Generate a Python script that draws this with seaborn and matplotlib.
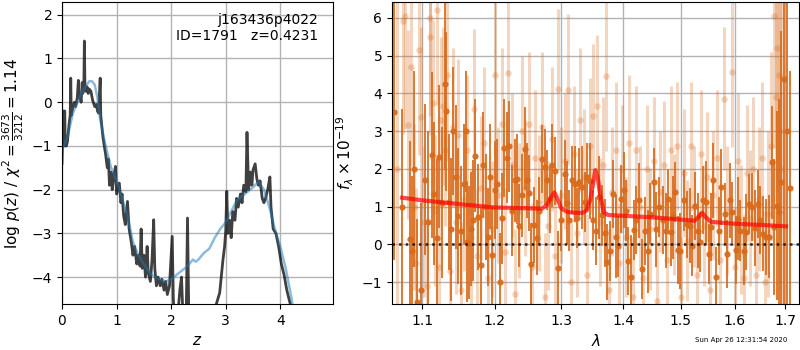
import matplotlib
matplotlib.use("Agg")
import matplotlib.pyplot as plt
from matplotlib.ticker import FixedLocator, FixedFormatter, NullLocator
import pandas as pd
import seaborn as sns

# ---- p(z) panel ----
pz_z = [0.00, 0.01, 0.02, 0.03, 0.05, 0.06, 0.08, 0.10, 0.13, 0.15, 0.16, 0.17, 0.20, 0.23,
        0.25, 0.28, 0.30, 0.31, 0.33, 0.35, 0.37, 0.38, 0.40, 0.41, 0.42, 0.44, 0.46, 0.48,
        0.50, 0.53, 0.56, 0.60, 0.63, 0.65, 0.67, 0.70, 0.71, 0.75, 0.80, 0.83, 0.85, 0.87,
        0.90, 0.92, 0.95, 0.98, 1.00, 1.02, 1.05, 1.08, 1.10, 1.13, 1.16, 1.20, 1.23, 1.27,
        1.30, 1.33, 1.37, 1.40, 1.43, 1.45, 1.47, 1.50, 1.53, 1.56, 1.58, 1.62, 1.65, 1.68,
        1.70, 1.73, 1.76, 1.80, 1.83, 1.87, 1.90, 1.93, 1.97, 2.02, 2.04, 2.07, 2.12, 2.16,
        2.19, 2.22, 2.27, 2.30, 2.33, 2.45, 2.60, 2.75, 2.83, 2.89, 2.95, 2.98, 3.00, 3.02,
        3.04, 3.07, 3.10, 3.13, 3.17, 3.20, 3.23, 3.27, 3.30, 3.33, 3.37, 3.39, 3.42, 3.45,
        3.48, 3.50, 3.54, 3.57, 3.60, 3.63, 3.67, 3.70, 3.73, 3.77, 3.81, 3.83, 3.87, 3.92,
        3.97, 4.02, 4.07, 4.12, 4.17, 4.22, 4.26]
pz_log = [-1.4, -0.9, -0.2, -1.0, -0.2, -1.0, -1.0, -0.9, -0.5, -0.3, 0.55, -0.3, -0.1, 0.0,
          -0.1, 0.1, 0.5, 0.1, 0.15, 0.0, 0.45, 0.2, 0.3, 1.4, 0.4, 0.25, 0.35, 0.2,
          0.3, 0.25, 0.05, -0.1, -0.05, -0.2, -0.25, 0.55, -0.3, -0.8, -1.2, -1.5, -1.3, -1.9,
          -1.6, -2.0, -1.7, -1.47, -2.1, -2.0, -1.85, -2.3, -2.1, -2.6, -2.8, -2.27, -2.9, -3.2,
          -3.5, -3.3, -3.7, -3.5, -3.75, -2.9, -3.8, -3.5, -4.0, -3.3, -3.9, -4.1, -3.6, -2.69,
          -3.8, -4.2, -4.0, -4.2, -4.05, -4.3, -4.1, -4.4, -4.2, -3.07, -4.5, -5.2, -4.9, -4.3,
          -4.0, -5.0, -5.5, -2.65, -5.5, -6.0, -6.5, -5.5, -4.61, -4.36, -3.6, -3.3, -2.95, -2.04,
          -3.0, -2.7, -3.1, -2.5, -2.7, -2.2, -2.4, -2.1, -2.3, -1.9, -2.05, -0.69, -2.0, -1.6,
          -1.9, -1.55, -1.41, -1.75, -1.9, -1.8, -2.2, -2.3, -2.2, -2.0, -1.71, -2.4, -2.9, -3.0,
          -3.3, -3.7, -3.95, -4.3, -4.55, -4.8, -5.2]

fit_z = [0.0, 0.1, 0.2, 0.3, 0.4, 0.5, 0.55, 0.6, 0.65, 0.7, 0.8, 0.9, 1.0, 1.1, 1.2, 1.3,
         1.4, 1.5, 1.6, 1.7, 1.8, 1.9, 2.0, 2.1, 2.2, 2.3, 2.4, 2.45, 2.5, 2.6, 2.7, 2.8,
         2.9, 3.0, 3.1, 3.2, 3.3, 3.4, 3.5, 3.6, 3.7, 3.8, 3.9, 4.0, 4.1, 4.2, 4.25]
fit_log = [-1.1, -0.8, -0.25, 0.05, 0.3, 0.48, 0.48, 0.4, 0.1, -0.4, -1.0, -1.5, -1.8, -2.2,
           -2.6, -3.2, -3.5, -3.7, -3.9, -4.0, -4.05, -4.1, -4.05, -3.95, -3.85, -3.75, -3.6,
           -3.65, -3.6, -3.45, -3.35, -3.1, -2.9, -2.75, -2.5, -2.25, -2.15, -2.05, -1.95,
           -1.82, -2.0, -2.4, -2.9, -3.3, -3.8, -4.45, -4.8]

# ---- spectrum panel: strong points (lam, flux, err) ----
dark_lam = [1.064, 1.074, 1.084, 1.087, 1.090, 1.093, 1.098, 1.104, 1.108, 1.113, 1.116, 1.120,
            1.123, 1.127, 1.130, 1.132, 1.136, 1.139, 1.142, 1.145, 1.149, 1.152, 1.156, 1.159,
            1.161, 1.163, 1.166, 1.169, 1.172, 1.176, 1.180, 1.183, 1.187, 1.190, 1.194, 1.196,
            1.200, 1.204, 1.208, 1.211, 1.214, 1.218, 1.221, 1.225, 1.229, 1.232, 1.236, 1.240,
            1.244, 1.248, 1.251, 1.254, 1.258, 1.262, 1.266, 1.270, 1.274, 1.278, 1.282, 1.286,
            1.290, 1.295, 1.300, 1.305, 1.308, 1.312, 1.317, 1.321, 1.325, 1.328, 1.332, 1.337,
            1.341, 1.346, 1.350, 1.355, 1.360, 1.365, 1.369, 1.373, 1.378, 1.383, 1.388, 1.392,
            1.396, 1.401, 1.404, 1.408, 1.413, 1.418, 1.422, 1.427, 1.432, 1.437, 1.442, 1.446,
            1.452, 1.456, 1.461, 1.469, 1.473, 1.477, 1.482, 1.486, 1.490, 1.495, 1.499, 1.505,
            1.511, 1.516, 1.521, 1.526, 1.531, 1.535, 1.540, 1.546, 1.551, 1.556, 1.560, 1.565,
            1.570, 1.575, 1.581, 1.586, 1.591, 1.595, 1.602, 1.606, 1.611, 1.618, 1.623, 1.628,
            1.634, 1.639, 1.645, 1.650, 1.655, 1.661, 1.667, 1.673, 1.678, 1.683, 1.687, 1.691,
            1.698, 1.704, 1.711]
dark_flux = [3.5, 1.0, 0.15, -0.18, 2.0, -1.53, -1.2, 1.72, 0.6, 2.36, 1.35, 0.16,
             2.33, 1.1, 4.26, 3.53, 1.13, 0.4, 3.0, 1.79, 0.76, 0.37, 1.6, 3.0,
             0.07, 0.05, 0.41, 0.64, 2.35, 0.72, -0.54, 2.1, 1.0, 0.2, 1.8, -0.28,
             1.45, 1.6, -1.0, 0.69, 2.55, 2.3, 2.6, 0.9, 1.7, 1.73, 0.5, 1.3,
             2.54, 1.7, 1.36, -0.52, 0.51, 0.18, 0.9, 2.27, 2.05, 1.71, 1.2, 2.1,
             1.95, -0.63, 0.64, 1.88, 1.1, 0.64, 1.7, 1.6, 0.7, 1.65, 1.52, 1.12,
             1.79, 1.68, 0.65, 0.35, 1.25, 0.77, 0.3, -0.47, -0.18, 1.34, 0.2, -0.05,
             1.2, 1.44, 0.9, -0.43, -0.85, 0.39, 0.64, 1.17, -0.65, 0.37, -0.18, 0.82,
             1.66, 0.4, 1.0, 0.64, 0.37, 1.2, 0.33, 0.72, 1.39, -0.15, -0.17, 1.17,
             0.53, 0.5, -0.03, 1.03, 0.37, 0.06, 1.17, 1.12, -0.25, 0.46, 1.7, -0.87,
             0.37, 1.52, 0.82, -0.25, 1.17, 0.85, -0.15, 0.68, 0.37, -0.18, 0.33, 1.08,
             0.99, 0.44, 1.08, 0.64, 0.29, 0.2, 0.2, 2.18, 0.46, 1.03, 0.86, 1.65,
             4.39, 3.0, 1.5]
dark_err = [3.9, 2.6, 2.6, 2.0, 2.6, 2.2, 2.3, 2.0, 2.4, 2.2, 1.9, 2.1,
            1.9, 2.0, 2.3, 2.1, 1.8, 1.9, 1.7, 1.9, 1.8, 1.7, 1.6, 1.6,
            1.6, 1.5, 1.5, 1.6, 1.5, 1.4, 1.5, 1.4, 1.4, 1.3, 1.4, 1.3,
            1.3, 1.2, 1.3, 1.2, 1.3, 1.2, 1.2, 1.2, 1.1, 1.2, 1.1, 1.1,
            1.1, 1.0, 1.0, 1.1, 1.0, 1.0, 0.9, 0.9, 1.0, 0.8, 0.9, 1.1,
            0.9, 1.0, 0.8, 0.9, 1.1, 0.8, 0.9, 1.0, 0.8, 0.9, 1.1, 0.8,
            0.9, 1.0, 0.8, 0.9, 1.1, 0.8, 0.9, 1.0, 0.8, 0.9, 1.1, 0.8,
            0.9, 1.0, 0.8, 0.9, 1.1, 0.8, 0.9, 1.0, 0.8, 0.9, 1.1, 0.8,
            0.9, 1.0, 0.8, 0.9, 1.0, 0.8, 0.9, 1.1, 0.8, 0.9, 1.0, 0.8,
            0.9, 1.0, 0.8, 0.9, 1.0, 0.8, 0.9, 1.1, 0.8, 0.9, 1.0, 0.8,
            0.9, 1.0, 0.8, 0.9, 1.0, 0.8, 0.9, 1.1, 0.8, 0.9, 1.0, 0.8,
            0.9, 1.0, 0.9, 0.9, 1.0, 1.0, 1.1, 1.5, 1.8, 2.5, 3.0, 4.0,
            6.0, 8.0, 3.1]

# ---- spectrum panel: weak points ----
light_lam = [1.068, 1.075, 1.078, 1.082, 1.085, 1.089, 1.092, 1.096, 1.099, 1.103, 1.106, 1.110,
             1.111, 1.114, 1.117, 1.120, 1.122, 1.125, 1.128, 1.131, 1.134, 1.137, 1.141, 1.145,
             1.149, 1.153, 1.157, 1.161, 1.166, 1.170, 1.175, 1.180, 1.185, 1.190, 1.196, 1.200,
             1.205, 1.210, 1.215, 1.220, 1.225, 1.230, 1.235, 1.240, 1.245, 1.250, 1.255, 1.260,
             1.265, 1.270, 1.275, 1.280, 1.285, 1.290, 1.295, 1.300, 1.305, 1.310, 1.315, 1.320,
             1.325, 1.330, 1.335, 1.340, 1.345, 1.350, 1.357, 1.362, 1.367, 1.372, 1.377, 1.382,
             1.388, 1.393, 1.398, 1.404, 1.410, 1.416, 1.422, 1.428, 1.434, 1.440, 1.446, 1.452,
             1.458, 1.464, 1.470, 1.476, 1.482, 1.488, 1.494, 1.500, 1.506, 1.512, 1.518, 1.524,
             1.530, 1.536, 1.542, 1.548, 1.554, 1.560, 1.566, 1.572, 1.580, 1.586, 1.595, 1.600,
             1.606, 1.612, 1.618, 1.624, 1.630, 1.636, 1.642, 1.648, 1.654, 1.660, 1.666, 1.672,
             1.678, 1.681, 1.684, 1.687, 1.690, 1.693]
light_flux = [2.0, 5.92, 6.05, 3.17, 4.69, 1.0, -0.5, 5.16, 3.37, 0.6, -1.1, 6.0,
              5.5, 3.75, 0.9, 6.2, -0.6, 3.3, 3.67, 2.5, 4.5, -0.7, 3.1, 0.6,
              2.9, -1.2, 1.2, 2.5, 0.2, 3.6, -0.3, 1.5, 2.7, -0.9, 0.4, 4.5,
              1.3, 3.2, -0.2, 4.53, 2.1, -1.3, 0.9, 3.0, 1.5, 3.2, -0.6, 2.3,
              1.1, 3.1, -1.4, 0.5, 2.8, -0.3, 4.13, 1.3, 2.2, 4.1, -1.0, 2.4,
              0.3, 3.3, 1.8, -0.8, 2.6, 3.4, 3.66, 0.6, 2.1, 4.47, -1.2, 1.4,
              2.5, -0.5, 2.0, 0.2, 2.7, -1.4, 2.5, 1.0, -0.9, 2.0, 0.4, 2.2,
              -1.5, 1.4, 2.1, -0.4, 2.5, 0.8, 2.6, -1.4, 1.9, 0.1, 2.6, 1.0,
              -0.8, 2.4, 0.5, 1.8, -1.2, 1.3, 2.3, -0.4, 3.86, 0.9, 4.58, -0.6,
              2.2, 0.4, -0.9, 1.9, 0.7, 2.0, -0.8, 1.2, 2.3, -1.0, 0.8, 2.6,
              6.05, 3.9, 5.2, 4.5, 3.0, 2.0]
light_err = [4.5, 3.0, 3.0, 2.5, 2.6, 2.2, 2.0, 2.8, 2.4, 2.0, 1.8, 2.6,
             2.6, 2.2, 2.0, 2.5, 1.8, 2.2, 2.1, 2.0, 2.3, 1.8, 2.1, 1.9,
             2.0, 1.8, 1.9, 2.0, 1.8, 2.1, 1.8, 1.9, 2.0, 1.8, 1.8, 2.2,
             1.8, 2.0, 1.7, 2.1, 1.9, 1.7, 1.8, 2.0, 1.8, 1.9, 1.7, 1.8,
             1.8, 2.0, 1.7, 1.7, 1.9, 1.7, 2.1, 1.8, 1.8, 2.0, 1.7, 1.8,
             1.7, 1.9, 1.8, 1.6, 1.8, 1.9, 1.9, 1.7, 1.8, 2.0, 1.6, 1.7,
             1.8, 1.6, 1.7, 1.6, 1.8, 1.6, 1.7, 1.6, 1.6, 1.7, 1.6, 1.7,
             1.6, 1.6, 1.7, 1.6, 1.7, 1.6, 1.7, 1.6, 1.7, 1.6, 1.7, 1.6,
             1.6, 1.7, 1.6, 1.7, 1.6, 1.7, 1.8, 1.6, 1.9, 1.7, 2.0, 1.6,
             1.8, 1.7, 1.7, 1.8, 1.8, 1.9, 1.8, 1.9, 2.0, 1.9, 2.2, 2.5,
             3.5, 3.5, 3.8, 4.0, 4.2, 4.5]

# ---- emission-line model ----
model_lam = [1.074, 1.10, 1.15, 1.20, 1.25, 1.270, 1.278, 1.284, 1.289, 1.294, 1.300, 1.310,
             1.320, 1.333, 1.340, 1.346, 1.350, 1.354, 1.358, 1.362, 1.368, 1.375, 1.40, 1.45,
             1.50, 1.525, 1.532, 1.539, 1.546, 1.555, 1.60, 1.65, 1.702]
model_flux = [1.24, 1.17, 1.07, 0.98, 0.96, 0.95, 1.05, 1.25, 1.38, 1.2, 0.95, 0.86,
              0.84, 0.84, 0.9, 1.2, 1.6, 1.97, 1.75, 1.3, 0.85, 0.78, 0.76, 0.72,
              0.66, 0.63, 0.72, 0.84, 0.72, 0.6, 0.55, 0.52, 0.48]

lam_ticks = [1.1, 1.2, 1.3, 1.4, 1.5, 1.6, 1.7]
orange = "#d96b1c"

fig = plt.figure(figsize=(8, 3.5), dpi=100)
ax1 = fig.add_axes([0.0775, 0.131, 0.339, 0.863])
ax2 = fig.add_axes([0.49, 0.131, 0.509, 0.863])

# ---- p(z) ----
sns.lineplot(x=pz_z, y=pz_log, ax=ax1, color="k", alpha=0.75, linewidth=2, estimator=None, sort=False)
sns.lineplot(x=fit_z, y=fit_log, ax=ax1, color="tab:blue", alpha=0.5, linewidth=1.8, estimator=None, sort=False)
ax1.set_xlim(0, 4.97)
ax1.set_ylim(-4.62, 2.29)
ax1.set_xticks([0, 1, 2, 3, 4])
ax1.set_yticks([-4, -3, -2, -1, 0, 1, 2])
ax1.grid(True, color="0.7", linewidth=1)
ax1.set_axisbelow(True)
ax1.set_xlabel(r"$z$", fontsize=11)
ax1.set_ylabel(r"$\log\,p(z)$ / $\chi^2=\frac{3673}{3212}=1.14$", fontsize=11)
ax1.text(0.945, 0.965, "j163436p4022\nID=1791   z=0.4231", transform=ax1.transAxes,
         ha="right", va="top", fontsize=10)

# ---- spectrum ----
ax2.errorbar(light_lam, light_flux, yerr=light_err, fmt="none", ecolor=orange, alpha=0.28, elinewidth=2.2)
sns.scatterplot(x=light_lam, y=light_flux, ax=ax2, color=orange, alpha=0.28, s=22, linewidth=0)
ax2.errorbar(dark_lam, dark_flux, yerr=dark_err, fmt="none", ecolor=orange, alpha=0.9, elinewidth=1.4)
sns.scatterplot(x=dark_lam, y=dark_flux, ax=ax2, color=orange, alpha=0.95, s=20, linewidth=0)
ax2.axhline(0, color="k", linestyle=":", linewidth=1.8, alpha=0.8)
sns.lineplot(x=model_lam, y=model_flux, ax=ax2, color="r", alpha=0.7, linewidth=3, estimator=None, sort=False)
ax2.set_xscale("log")
ax2.set_xlim(1.061, 1.729)
ax2.set_ylim(-1.58, 6.42)
ax2.xaxis.set_major_locator(FixedLocator(lam_ticks))
ax2.xaxis.set_major_formatter(FixedFormatter([str(t) for t in lam_ticks]))
ax2.xaxis.set_minor_locator(NullLocator())
ax2.set_yticks([-1, 0, 1, 2, 3, 4, 5, 6])
ax2.grid(True, color="0.7", linewidth=1)
ax2.set_axisbelow(True)
ax2.set_xlabel(r"$\lambda$", fontsize=11)
ax2.set_ylabel(r"$f_\lambda\times 10^{-19}$", fontsize=11)

fig.text(0.984, 0.028, "Sun Apr 26 12:31:54 2020", ha="right", va="center", fontsize=5)

fig.savefig("out.png", dpi=100)
